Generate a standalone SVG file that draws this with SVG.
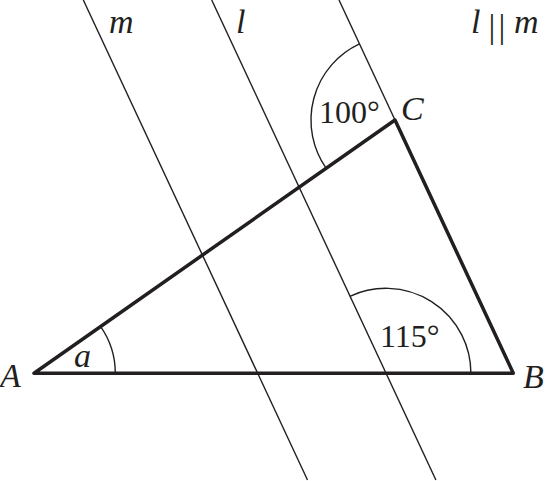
<svg xmlns="http://www.w3.org/2000/svg" width="547" height="481" viewBox="0 0 547 481">
<style>
.thin{stroke:#231f20;stroke-width:1.4;fill:none}
.thick{stroke:#231f20;stroke-width:3.5;fill:none;stroke-linejoin:round;stroke-linecap:round}
text{font-family:"Liberation Serif","Times New Roman",serif;font-size:32px;fill:#231f20}
.it{font-style:italic;font-size:34px}
.bar{font-size:34px}
</style>
<rect width="547" height="481" fill="#fff"/>
<g id="lines">
<line id="line-m" class="thin" x1="83.3" y1="0" x2="307.5" y2="480"/>
<line id="line-l" class="thin" x1="211.7" y1="0" x2="435.9" y2="480"/>
<line id="line-c" class="thin" x1="339" y1="0" x2="395" y2="120"/>
</g>
<g id="arcs">
<path class="thin" d="M115.3,373.3 A82,82 0 0 0 100.5,326.3"/>
<path class="thin" d="M359.5,43.9 A84,84 0 0 0 326.1,168.1"/>
<path class="thin" d="M470.9,373.3 A85,85 0 0 0 349.9,296.3"/>
</g>
<g id="triangle">
<polygon class="thick" points="34,373.3 513.3,373.3 395,120"/>
</g>
<g id="labels">
<text class="it" x="109" y="33">m</text>
<text class="it" x="236" y="33">l</text>
<text><tspan class="it" x="471" y="33">l</tspan><tspan class="bar" x="488.5" y="38">|</tspan><tspan class="bar" x="498.5" y="38">|</tspan><tspan class="it" x="514" y="33">m</tspan></text>
<text x="319" y="123">100°</text>
<text class="it" x="401" y="120">C</text>
<text class="it" x="0" y="387">A</text>
<text class="it" x="74" y="367">a</text>
<text x="380" y="347">115°</text>
<text class="it" x="523" y="388">B</text>
</g>
</svg>
